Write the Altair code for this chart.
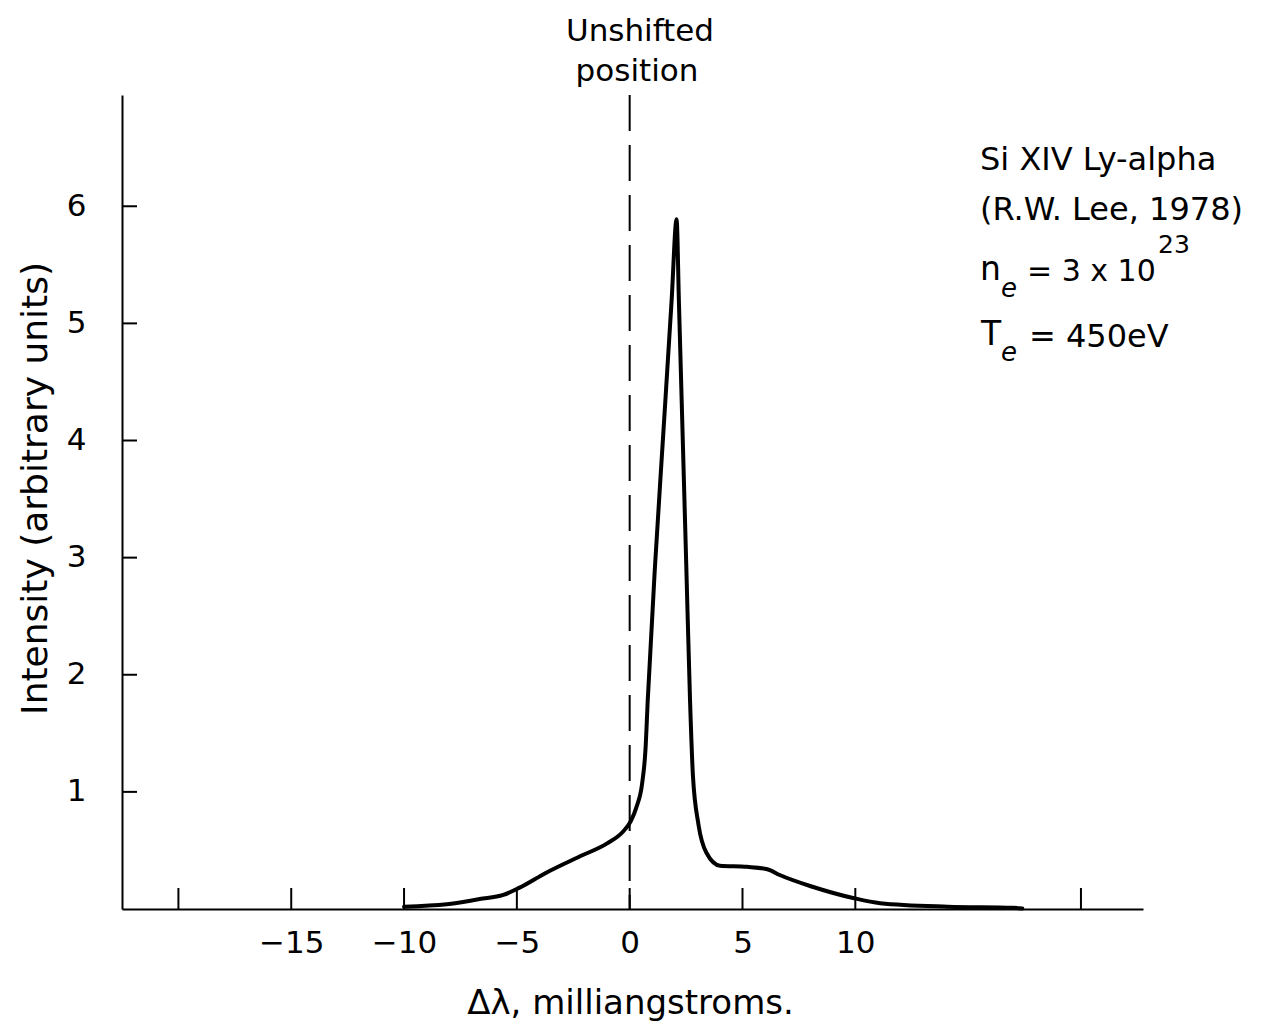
import altair as alt
import pandas as pd

# Curve (delta-lambda in milliangstroms, intensity in arbitrary units)
dl = [-10.0, -8.1, -6.65, -5.6, -4.9, -3.7, -2.2, -1.0, -0.3, 0.05, 0.3, 0.55, 0.7, 0.8,
      1.12, 1.49, 1.86, 2.08, 2.18, 2.345, 2.51, 2.675, 2.8, 3.05, 3.4, 4.0, 5.2, 6.1, 6.65,
      8.1, 9.9, 11.1, 14.1, 17.0, 17.4]
inten = [0.02, 0.04, 0.085, 0.12, 0.18, 0.31, 0.45, 0.56, 0.66, 0.75, 0.87, 1.07, 1.36, 1.78,
         2.92, 4.06, 5.2, 5.89, 5.2, 4.06, 2.92, 1.78, 1.15, 0.72, 0.48, 0.37, 0.36, 0.34, 0.29,
         0.19, 0.094, 0.05, 0.02, 0.01, 0.005]

xtick_pos = [-20, -15, -10, -5, 0, 5, 10, 20]
xtick_labels = [-15, -10, -5, 0, 5, 10]
ytick_pos = [1, 2, 3, 4, 5, 6]
unshifted = [0]

W, H = 1021, 814
FONT = "DejaVu Sans"

curve = pd.DataFrame({"dl": dl, "I": inten})
xscale = alt.Scale(domain=[-22.5, 22.75], nice=False, zero=False)
yscale = alt.Scale(domain=[0, 6.95], nice=False, zero=False)

line = alt.Chart(curve).mark_line(
    color="black", strokeWidth=4, interpolate="monotone", strokeCap="round", strokeJoin="round"
).encode(
    x=alt.X("dl:Q", scale=xscale, axis=alt.Axis(
        values=xtick_labels, tickSize=0, labelPadding=19, labelFontSize=31, format="d",
        title="Δλ, milliangstroms.", titleFontSize=34, titleFontWeight="normal",
        titleX=508, titleY=94, titleBaseline="middle", titleAnchor="start", titleAlign="center")),
    y=alt.Y("I:Q", scale=yscale, axis=alt.Axis(
        values=ytick_pos, tickSize=0, labelPadding=36, labelFontSize=31, format="d",
        title="Intensity (arbitrary units)", titleFontSize=36, titleFontWeight="normal",
        titleX=-87, titleY=393, titleBaseline="middle", titleAlign="center", titleAngle=-90)),
)

dash = alt.Chart(pd.DataFrame({"x": unshifted})).mark_rule(
    color="black", strokeWidth=2, strokeDash=[36, 14]
).encode(x=alt.X("x:Q", scale=xscale), y=alt.value(0), y2=alt.value(H))

xticks = alt.Chart(pd.DataFrame({"x": xtick_pos})).mark_rule(color="black", strokeWidth=2).encode(
    x=alt.X("x:Q", scale=xscale), y=alt.value(H - 21), y2=alt.value(H))

yticks = alt.Chart(pd.DataFrame({"y": ytick_pos})).mark_rule(color="black", strokeWidth=2).encode(
    y=alt.Y("y:Q", scale=yscale), x=alt.value(0), x2=alt.value(15))


def txt(s, x, y, size=32, align="left", style="normal"):
    return alt.Chart(pd.DataFrame({"t": [s]})).mark_text(
        font=FONT, fontSize=size, align=align, baseline="middle", color="black", fontStyle=style
    ).encode(text="t:N", x=alt.value(x), y=alt.value(y))


texts = [
    txt("Unshifted", 518, -63, 31, "center"),
    txt("position", 515, -23, 31, "center"),
    txt("Si XIV  Ly-alpha", 858, 65, 32),
    txt("(R.W. Lee, 1978)", 858, 115, 32),
    txt("n", 858, 175, 33),
    txt("e", 879, 194, 26, style="italic"),
    txt("= 3 x 10", 905, 177, 30),
    txt("23", 1036, 150, 25),
    txt("T", 859, 240, 33),
    txt("e", 879, 258, 26, style="italic"),
    txt("=  450eV", 907, 242, 32),
]

chart = alt.layer(line, dash, xticks, yticks, *texts).properties(
    width=W, height=H,
    autosize=alt.AutoSizeParams(type="none"),
    padding={"left": 114, "top": 87, "right": 120, "bottom": 115},
).configure_view(stroke=None).configure_axis(
    grid=False, domainColor="black", domainWidth=2, labelColor="black", titleColor="black",
    labelFont=FONT, titleFont=FONT
)

chart.save("out.html", embed_options={"renderer": "svg", "actions": False})
